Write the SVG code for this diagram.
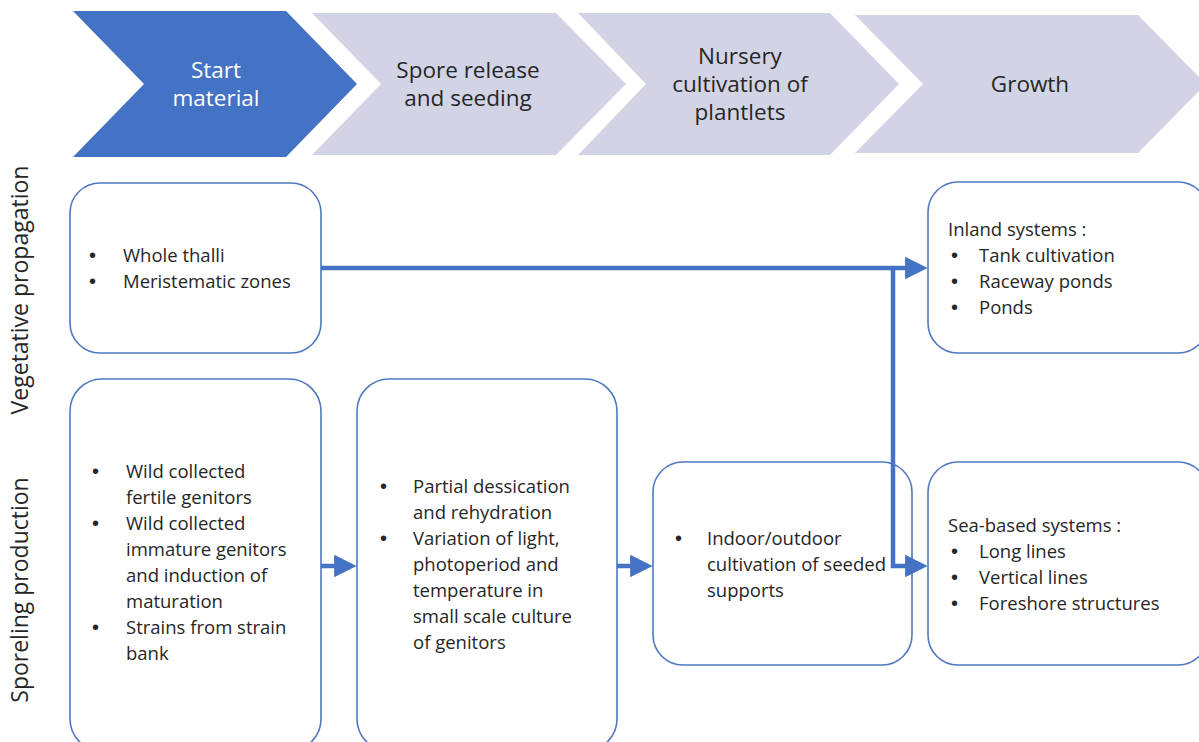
<svg xmlns="http://www.w3.org/2000/svg" width="1199" height="742" viewBox="0 0 1199 742">
<defs>
<style>
.t{font-family:"Open Sans","Liberation Sans",sans-serif;font-size:18.5px;fill:#262626}
.b{font-family:"Liberation Sans",sans-serif;font-size:20px}
.h{font-family:"Open Sans","Liberation Sans",sans-serif;font-size:22.5px;fill:#262626;text-anchor:middle}
.s{font-family:"Open Sans","Liberation Sans",sans-serif;font-size:23px;fill:#262626;text-anchor:middle}
.box{fill:#fff;stroke:#4F78C0;stroke-width:1.6}
.lt{fill:#D2D4E6}
.dk{fill:#4472C4}
.con{fill:none;stroke:#4472C4;stroke-width:4.5}
</style>
<marker id="ah" markerWidth="5" markerHeight="5" refX="0.2" refY="2.5" orient="auto" markerUnits="strokeWidth" viewBox="0 0 5 5">
<path d="M0,0 L5,2.5 L0,5 z" fill="#4472C4"/>
</marker>
</defs>
<rect width="1199" height="742" fill="#fff"/>
<g id="chev1"><polygon class="dk" points="73,11 286,11 357,84 286,157 73,157 144,84"/>
<text class="h" x="216" y="78" style="fill:#fff">Start</text><text class="h" x="216" y="106" style="fill:#fff">material</text></g>
<g id="chev2"><polygon class="lt" points="312,13 556,13 626,84 556,155 312,155 381,84"/>
<text class="h" x="468" y="78">Spore release</text><text class="h" x="468" y="106">and seeding</text></g>
<g id="chev3"><polygon class="lt" points="578,13 830,13 899,84 830,155 578,155 646,84"/>
<text class="h" x="740" y="64">Nursery</text><text class="h" x="740" y="92">cultivation of</text><text class="h" x="740" y="120">plantlets</text></g>
<g id="chev4"><polygon class="lt" points="855,15 1138,15 1206,84 1138,153 855,153 923,84"/>
<text class="h" x="1030" y="92">Growth</text></g>
<g id="lab1"><text class="s" transform="translate(28,290) rotate(-90)">Vegetative propagation</text></g>
<g id="lab2"><text class="s" transform="translate(28,590) rotate(-90)">Sporeling production</text></g>
<g id="boxA"><rect class="box" x="70" y="183" width="251" height="170" rx="30"/>
<text class="t"><tspan class="b" x="89" y="262">•</tspan><tspan x="123" y="262">Whole thalli</tspan><tspan class="b" x="89" y="288">•</tspan><tspan x="123" y="288">Meristematic zones</tspan></text></g>
<g id="boxB"><rect class="box" x="70" y="379" width="251" height="372" rx="32"/>
<text class="t"><tspan class="b" x="92" y="478">•</tspan><tspan x="126" y="478">Wild collected</tspan><tspan x="126" y="504">fertile genitors</tspan><tspan class="b" x="92" y="530">•</tspan><tspan x="126" y="530">Wild collected</tspan><tspan x="126" y="556">immature genitors</tspan><tspan x="126" y="582">and induction of</tspan><tspan x="126" y="608">maturation</tspan><tspan class="b" x="92" y="634">•</tspan><tspan x="126" y="634">Strains from strain</tspan><tspan x="126" y="660">bank</tspan></text></g>
<g id="boxC"><rect class="box" x="357" y="379" width="260" height="372" rx="32"/>
<text class="t"><tspan class="b" x="380" y="493">•</tspan><tspan x="413" y="493">Partial dessication</tspan><tspan x="413" y="519">and rehydration</tspan><tspan class="b" x="380" y="545">•</tspan><tspan x="413" y="545">Variation of light,</tspan><tspan x="413" y="571">photoperiod and</tspan><tspan x="413" y="597">temperature in</tspan><tspan x="413" y="623">small scale culture</tspan><tspan x="413" y="649">of genitors</tspan></text></g>
<g id="boxD"><rect class="box" x="653" y="462" width="259" height="203" rx="30"/>
<text class="t"><tspan class="b" x="675" y="545">•</tspan><tspan x="707" y="545">Indoor/outdoor</tspan><tspan x="707" y="571">cultivation of seeded</tspan><tspan x="707" y="597">supports</tspan></text></g>
<g id="boxE"><rect class="box" x="928" y="182" width="280" height="171" rx="30"/>
<text class="t"><tspan x="948" y="236">Inland systems :</tspan><tspan class="b" x="951" y="262">•</tspan><tspan x="979" y="262">Tank cultivation</tspan><tspan class="b" x="951" y="288">•</tspan><tspan x="979" y="288">Raceway ponds</tspan><tspan class="b" x="951" y="314">•</tspan><tspan x="979" y="314">Ponds</tspan></text></g>
<g id="boxF"><rect class="box" x="928" y="462" width="280" height="203" rx="30"/>
<text class="t"><tspan x="948" y="532">Sea-based systems :</tspan><tspan class="b" x="951" y="558">•</tspan><tspan x="979" y="558">Long lines</tspan><tspan class="b" x="951" y="584">•</tspan><tspan x="979" y="584">Vertical lines</tspan><tspan class="b" x="951" y="610">•</tspan><tspan x="979" y="610">Foreshore structures</tspan></text></g>
<g id="connectors">
<path class="con" d="M321,268 H906" marker-end="url(#ah)"/>
<path class="con" d="M893,268 V566 H906" marker-end="url(#ah)"/>
<path class="con" d="M321,566 H335" marker-end="url(#ah)"/>
<path class="con" d="M617,566 H631" marker-end="url(#ah)"/>
</g>
</svg>
